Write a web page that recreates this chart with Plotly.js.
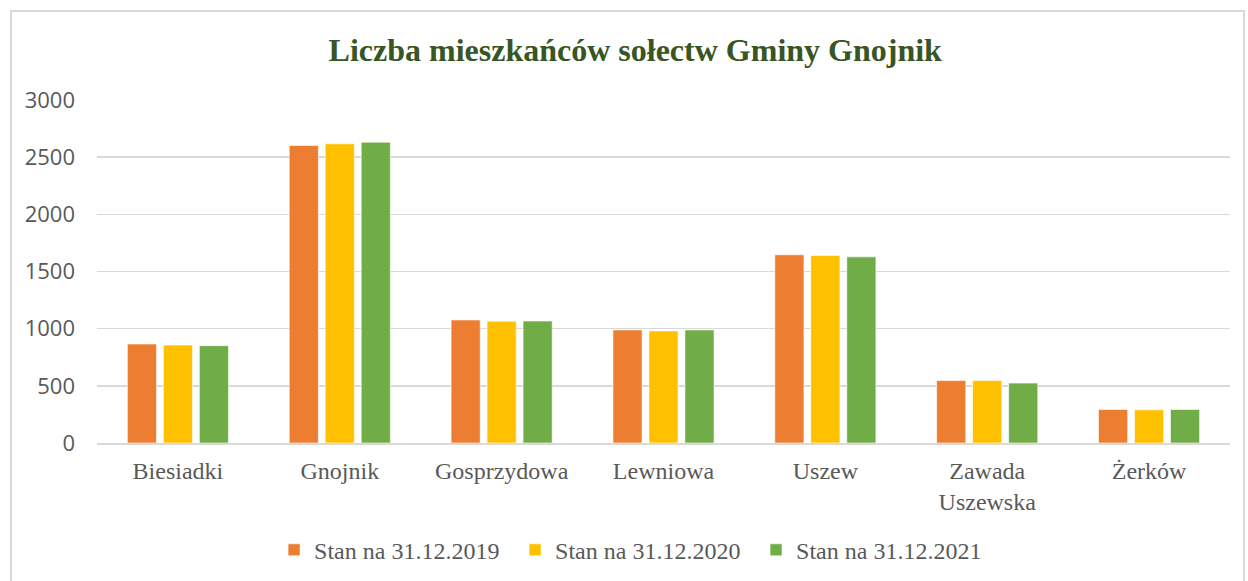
<!DOCTYPE html>
<html>
<head>
<meta charset="utf-8">
<script src="https://cdn.plot.ly/plotly-3.0.1.min.js"></script>
<style>
  html, body { margin: 0; padding: 0; background: #fff; }
  #wrap { position: relative; width: 1248px; height: 581px; overflow: hidden; }
  #chart { position: absolute; left: 0; top: 0; width: 1248px; height: 581px; }
  #frame { position: absolute; left: 10px; top: 10px; width: 1235px; height: 600px;
           border: 2px solid #d9d9d9; pointer-events: none; box-sizing: border-box; }
</style>
</head>
<body>
<div id="wrap">
  <div id="chart"></div>
  <div id="frame"></div>
</div>
<script>
const categories = ["Biesiadki", "Gnojnik", "Gosprzydowa", "Lewniowa", "Uszew", "Zawada<br>Uszewska", "Żerków"];
const seriesNames = ["Stan na 31.12.2019", "Stan na 31.12.2020", "Stan na 31.12.2021"];
const values2019 = [866, 2602, 1076, 989, 1646, 546, 293];
const values2020 = [857, 2617, 1065, 980, 1640, 546, 290];
const values2021 = [851, 2631, 1067, 989, 1628, 524, 293];
const colors = ["#ED7D31", "#FFC000", "#70AD47"];
const yTicks = [0, 500, 1000, 1500, 2000, 2500, 3000];

const allValues = [values2019, values2020, values2021];
const traces = allValues.map((vals, i) => ({
  type: "bar",
  name: seriesNames[i],
  x: categories,
  y: vals,
  marker: { color: colors[i], line: { color: "rgba(255,255,255,0.6)", width: 1 } },
  hoverinfo: "x+y+name"
}));

const serif = "'Liberation Serif', 'Times New Roman', serif";
const layout = {
  width: 1248,
  height: 581,
  paper_bgcolor: "rgba(0,0,0,0)",
  plot_bgcolor: "rgba(0,0,0,0)",
  margin: { l: 97, r: 18, t: 100, b: 138 },
  title: {
    text: "<b>Liczba mieszkańców sołectw Gminy Gnojnik</b>",
    font: { family: serif, size: 32, color: "#375623" },
    x: 0.509, xref: "container", xanchor: "center",
    y: 0.914, yref: "container", yanchor: "middle"
  },
  barmode: "group",
  bargap: 0.333,
  bargroupgap: 0.19,
  xaxis: {
    type: "category",
    range: [-0.5, 6.5],
    showgrid: false,
    showline: true,
    linecolor: "#d9d9d9",
    linewidth: 2,
    ticks: "",
    tickfont: { family: serif, size: 24, color: "#595959" },
    ticklabelstandoff: 5,
    fixedrange: true
  },
  yaxis: {
    range: [0, 3000],
    tickvals: yTicks,
    ticktext: yTicks.map(String),
    showgrid: true,
    gridcolor: "#d9d9d9",
    gridwidth: 1.5,
    zeroline: false,
    showline: false,
    ticks: "",
    tickfont: { family: "'Open Sans', sans-serif", size: 22, color: "#595959" },
    ticklabelstandoff: 21,
    fixedrange: true
  },
  showlegend: true,
  legend: {
    orientation: "h",
    x: 0.2196, xref: "container", xanchor: "left",
    y: 0.053, yref: "container", yanchor: "middle",
    font: { family: serif, size: 24, color: "#595959" },
    itemwidth: 30,
    entrywidth: 196,
    entrywidthmode: "pixels",
    traceorder: "normal"
  }
};

Plotly.newPlot("chart", traces, layout, { displayModeBar: false, staticPlot: true });
</script>
</body>
</html>
